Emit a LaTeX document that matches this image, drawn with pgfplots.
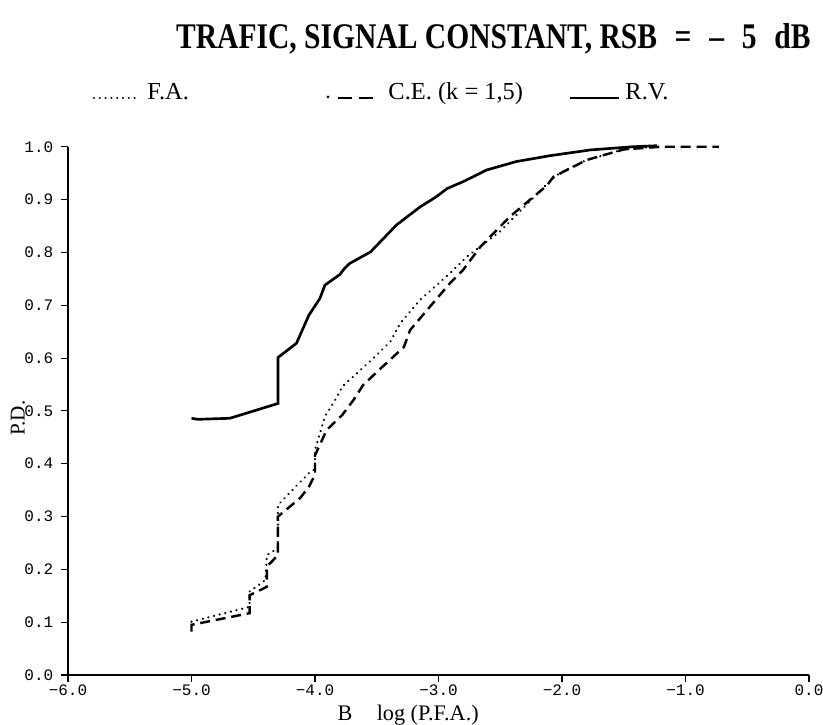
\documentclass[border=0pt]{standalone}
\usepackage{fontspec}
\setmainfont{Liberation Serif}
\newfontfamily\tickfont{Liberation Mono}
\usepackage{pgfplots}
\usepackage{pgfplotstable}
\pgfplotsset{compat=1.18}

% R.V. (solid)
\pgfplotstableread{
x y
-5.00 0.486
-4.95 0.484
-4.69 0.486
-4.30 0.514
-4.30 0.601
-4.15 0.628
-4.05 0.681
-3.96 0.713
-3.92 0.738
-3.80 0.758
-3.76 0.770
-3.72 0.779
-3.55 0.801
-3.34 0.852
-3.15 0.886
-3.02 0.905
-2.93 0.921
-2.80 0.934
-2.61 0.956
-2.37 0.972
-2.10 0.983
-1.77 0.994
-1.43 1.000
-1.23 1.002
}\rvdata

% F.A. (dotted)
\pgfplotstableread{
x y
-5.00 0.101
-4.53 0.129
-4.53 0.158
-4.40 0.180
-4.39 0.227
-4.30 0.240
-4.30 0.322
-4.05 0.382
-4.00 0.390
-4.00 0.426
-3.92 0.489
-3.82 0.527
-3.78 0.546
-3.69 0.565
-3.55 0.595
-3.39 0.631
-3.31 0.666
-3.15 0.710
-2.91 0.760
-2.77 0.792
-2.50 0.840
-2.12 0.930
-2.02 0.950
-1.80 0.975
-1.50 0.995
-1.25 1.000
}\fadata

% C.E. k=1,5 (dashed)
\pgfplotstableread{
x y
-5.00 0.082
-5.00 0.095
-4.53 0.117
-4.53 0.151
-4.39 0.167
-4.39 0.205
-4.30 0.227
-4.30 0.300
-4.12 0.335
-4.05 0.356
-4.00 0.379
-4.00 0.416
-3.905 0.464
-3.78 0.492
-3.69 0.520
-3.61 0.549
-3.47 0.580
-3.28 0.621
-3.23 0.653
-3.07 0.697
-2.91 0.741
-2.80 0.767
-2.66 0.811
-2.42 0.868
-2.12 0.927
-2.07 0.943
-1.80 0.975
-1.50 0.995
-1.20 1.000
-0.73 1.000
}\cedata

\tikzset{
  rvline/.style={line width=1.2pt},
  faline/.style={line width=1.1pt, dash pattern=on 0.01pt off 2.6pt, line cap=round},
  celine/.style={line width=1.1pt, dash pattern=on 4.5pt off 2.6pt},
}

\begin{document}
\begin{tikzpicture}[x=0.45pt,y=0.45pt]
\path[use as bounding box] (0,0) rectangle (823,724);
\begin{axis}[
  at={(30.6pt,22.05pt)}, anchor=south west,
  scale only axis, width=333.45pt, height=237.7pt,
  xmin=-6, xmax=0, ymin=0, ymax=1,
  axis lines=left, axis line style={-, line width=0.6pt},
  tick align=outside, major tick length=3.1pt,
  tick style={line width=0.5pt, black},
  xtick={-6,-5,-4,-3,-2,-1,0},
  xticklabels={−6.0,−5.0,−4.0,−3.0,−2.0,−1.0,0.0},
  ytick={0,0.1,0.2,0.3,0.4,0.5,0.6,0.7,0.8,0.9,1},
  yticklabels={0.0,0.1,0.2,0.3,0.4,0.5,0.6,0.7,0.8,0.9,1.0},
  tick label style={font=\tickfont\fontsize{7.2}{8}\selectfont},
  x tick label style={inner sep=1pt},
  clip=false,
  xlabel={B\hspace{1.1em}log (P.F.A.)},
  xlabel style={at={(axis description cs:0.459,-0.057)}, anchor=north, inner sep=0pt, font=\fontsize{10}{11}\selectfont},
  ylabel={P.D.},
  ylabel style={at={(axis description cs:-0.0675,0.486)}, anchor=center, inner sep=0pt, font=\fontsize{9.5}{11}\selectfont},
]
\addplot[rvline] table {\rvdata};
\addplot[faline] table {\fadata};
\addplot[celine] table {\cedata};
\end{axis}

% title
\node[anchor=base east, inner sep=0pt, font=\bfseries\fontsize{13.3}{15}\selectfont]
  at (811,675) {\scalebox{1}[1.22]{TRAFIC, SIGNAL CONSTANT, RSB\hspace{0.6em}=\hspace{0.6em}--\hspace{0.6em}5\hspace{0.6em}dB}};

% legend line
\begin{scope}[font=\fontsize{11}{13}\selectfont]
\draw[faline] (94,626) -- (137,626);
\node[anchor=base west, inner sep=0pt] at (147,624) {F.A.};
\fill (328,627) circle (1.5);
\draw[line width=1.1pt] (338,626) -- (352,626) (359,626) -- (373,626);
\node[anchor=base west, inner sep=0pt] at (388,624) {C.E.\ (k\ =\ 1,5)};
\draw[line width=1.1pt] (570,626) -- (619,626);
\node[anchor=base west, inner sep=0pt] at (625,624) {R.V.};
\end{scope}
\end{tikzpicture}
\end{document}
